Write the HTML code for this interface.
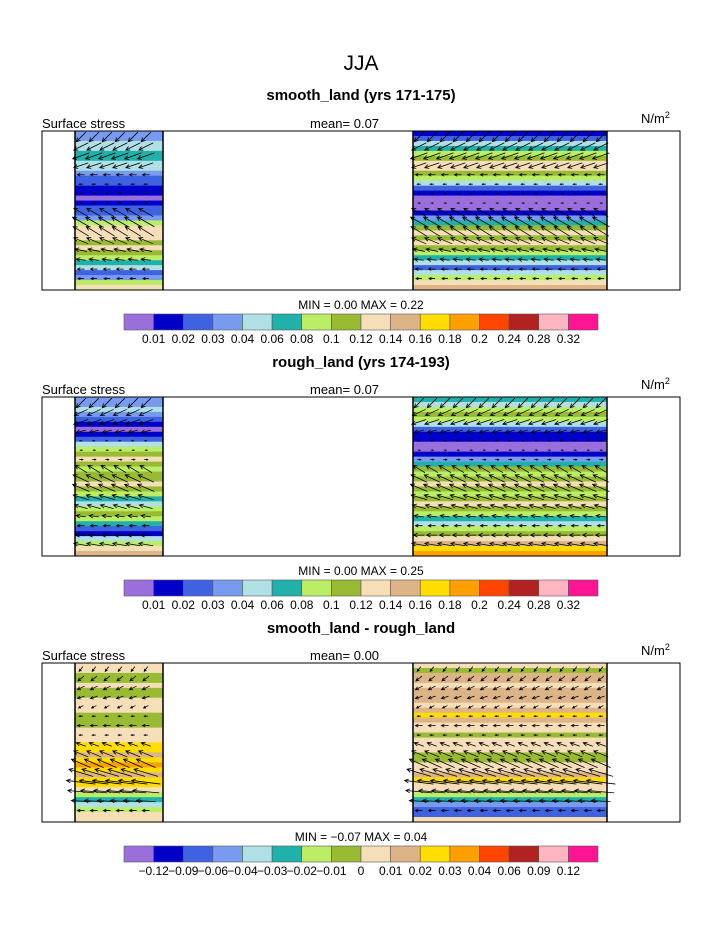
<!DOCTYPE html>
<html><head><meta charset="utf-8"><style>
body{margin:0;background:#fff;}
svg text{font-family:"Liberation Sans",sans-serif;fill:#000;}
</style></head><body>
<svg id="fig" width="723" height="935" viewBox="0 0 723 935" xmlns="http://www.w3.org/2000/svg">
<text x="361" y="70" font-size="21" text-anchor="middle" style="font-weight:300">JJA</text>
<g id="panels"></g>
</svg>
<script>
const palette=["#9a6fdc","#0000c8","#3f62e0","#789bf0","#b0e0e6","#20b2aa","#bbee66","#99bb33","#f5deb8","#dcb487","#ffdd00","#ffa000","#ff4500","#b22222","#ffb6c1","#ff1493"];
const labelsAbs=["0.01","0.02","0.03","0.04","0.06","0.08","0.1","0.12","0.14","0.16","0.18","0.2","0.24","0.28","0.32"];
const labelsDiff=["−0.12","−0.09","−0.06","−0.04","−0.03","−0.02","−0.01","0","0.01","0.02","0.03","0.04","0.06","0.09","0.12"];
const titles=["smooth_land (yrs 171-175)","rough_land (yrs 174-193)","smooth_land - rough_land"];
const means=["0.07","0.07","0.00"];
const mins=["0.00","0.00","−0.07"];
const maxs=["0.22","0.25","0.04"];
const p1Left=[3,3,4,4,5,5,4,4,3,2,2,1,1,0,1,2,2,3,6,8,8,8,7,8,7,6,5,4,2,3,6,8];
const p1Right=[1,2,4,5,6,7,8,8,7,6,4,2,1,0,0,0,1,3,5,7,8,7,8,7,6,5,4,2,4,6,8,9];
const p2Left=[3,3,4,3,2,1,0,1,2,4,6,7,8,7,6,7,7,8,7,6,5,4,6,7,6,5,2,1,4,6,8,9];
const p2Right=[5,4,6,7,6,4,2,1,1,0,0,1,3,5,7,6,7,8,7,6,7,8,7,6,5,4,6,7,8,9,10,11];
const p3Left=[8,8,7,7,8,7,7,8,8,8,7,7,7,8,8,8,10,10,9,10,11,10,9,10,10,8,6,5,4,6,8,8];
const p3Right=[8,7,9,9,8,9,9,9,8,9,10,9,8,8,7,8,8,8,7,7,8,8,9,10,8,8,6,5,3,2,2,8];
const p1U=[-0.8,-1.2,-1.4,-1.2,-0.6,-0.3,0.2,0.2,-1.2,-1.4,-1.3,-1.2,-1.0,-0.8,-0.6,-0.5];
const p1V=[-0.8,-0.6,-0.5,-0.4,0,0,0,0,0.7,0.8,0.8,0.5,0.2,0.1,0,0];
const p2U=[-0.8,-1.1,-1.2,-0.8,-0.2,0.2,0.3,-1.0,-1.3,-1.4,-1.3,-1.1,-0.8,-0.6,-0.9,-1.2];
const p2V=[-0.8,-0.5,-0.4,-0.2,0,0,0,0.6,0.6,0.6,0.4,0.3,0.1,0,0,0.2];
const p3U=[-0.3,-0.5,-0.6,-0.6,-0.4,-0.3,-0.6,-0.3,-0.8,-1.2,-1.6,-2.0,-2.4,-2.2,-1.6,-0.6];
const p3V=[-0.4,-0.4,-0.3,-0.2,-0.2,0,0,0,0.3,0.5,0.7,0.6,0.3,0.2,0.1,0];
const fields=[[p1Left,p1Right],[p2Left,p2Right],[p3Left,p3Right]];
const winds=[[p1U,p1V],[p2U,p2V],[p3U,p3V]];
const NS="http://www.w3.org/2000/svg";
const root=document.getElementById('panels');
function mk(t,a,p){const e=document.createElementNS(NS,t);for(const k in a)e.setAttribute(k,a[k]);(p||root).appendChild(e);return e;}
const frameX0=42,frameX1=680,frameH=159;
const strips=[[75,163],[413,607]];
const panelTops=[131,397,663];
const titleY=[100,367,633];
function rowY(top,i,n){return top+i*frameH/n;}
panelTops.forEach((top,p)=>{
  const g=mk('g',{});
  
  
  const t=mk('text',{x:361,y:titleY[p],'font-size':15,'font-weight':'bold','text-anchor':'middle'},g);t.textContent=titles[p];
  
  const s=mk('text',{x:42,y:top-3,'font-size':13},g);s.textContent='Surface stress';
  
  const m=mk('text',{x:310,y:top-3,'font-size':13,'xml:space':'preserve'},g);m.textContent='mean=    '+means[p];
  
  const u=mk('text',{x:641,y:top-8,'font-size':13},g);u.innerHTML='N/m<tspan dy="-5" font-size="9">2</tspan>';
  
  strips.forEach((st,si)=>{
    const arr=fields[p][si];const n=arr.length;
    arr.forEach((c,i)=>{
      const r=mk('rect',{x:st[0],y:rowY(top,i,n),width:st[1]-st[0],height:frameH/n+0.6,fill:palette[c]},g);
      
    });
    [st[0],st[1]].forEach(x=>{const l=mk('line',{x1:x,y1:top,x2:x,y2:top+frameH,stroke:'#000','stroke-width':1.5},g);
      });
    const U=winds[p][0],V=winds[p][1];
    for(let i=0;i<U.length;i++){
      const y=top+6+i*(frameH-8)/U.length;
      for(let x=st[0]+6;x<st[1]-4;x+=13){
        const sc=12;const dx=U[i]*sc,dy=-V[i]*sc;
        const x0=x-dx/2,y0=y-dy/2,x1=x+dx/2,y1=y+dy/2;
        const len=Math.hypot(dx,dy);
        const a=mk('path',{fill:'none',stroke:'#000','stroke-width':0.8},g);
        let d='M'+x0+' '+y0+'L'+x1+' '+y1;
        if(len>1){const ux=dx/len,uy=dy/len,h=Math.min(4,len*0.4);
          d+='M'+(x1-ux*h-uy*h*0.5)+' '+(y1-uy*h+ux*h*0.5)+'L'+x1+' '+y1+'L'+(x1-ux*h+uy*h*0.5)+' '+(y1-uy*h-ux*h*0.5);}
        else{d+='M'+x+' '+(y-0.8)+'l0 1.6';}
        a.setAttribute('d',d);
        
      }
    }
  });
  const f=mk('rect',{x:frameX0,y:top,width:frameX1-frameX0,height:frameH,fill:'none',stroke:'#000','stroke-width':1},g);
  
  const mm=mk('text',{x:361,y:top+frameH+19,'font-size':12,'text-anchor':'middle','xml:space':'preserve'},g);
  mm.textContent='MIN =    '+mins[p]+'  MAX =    '+maxs[p];
  
  const cb=mk('g',{},g);
  const cy=top+frameH+24,cw=(598-124)/16;
  palette.forEach((c,i)=>{const r=mk('rect',{x:124+i*cw,y:cy,width:cw,height:16,fill:c,stroke:'#555','stroke-width':0.6},cb);
    });
  const labs=p==2?labelsDiff:labelsAbs;
  labs.forEach((lb,i)=>{const tx=mk('text',{x:124+(i+1)*cw,y:cy+29,'font-size':12,'text-anchor':'middle'},cb);tx.textContent=lb;
    });
});
</script>
</body></html>
